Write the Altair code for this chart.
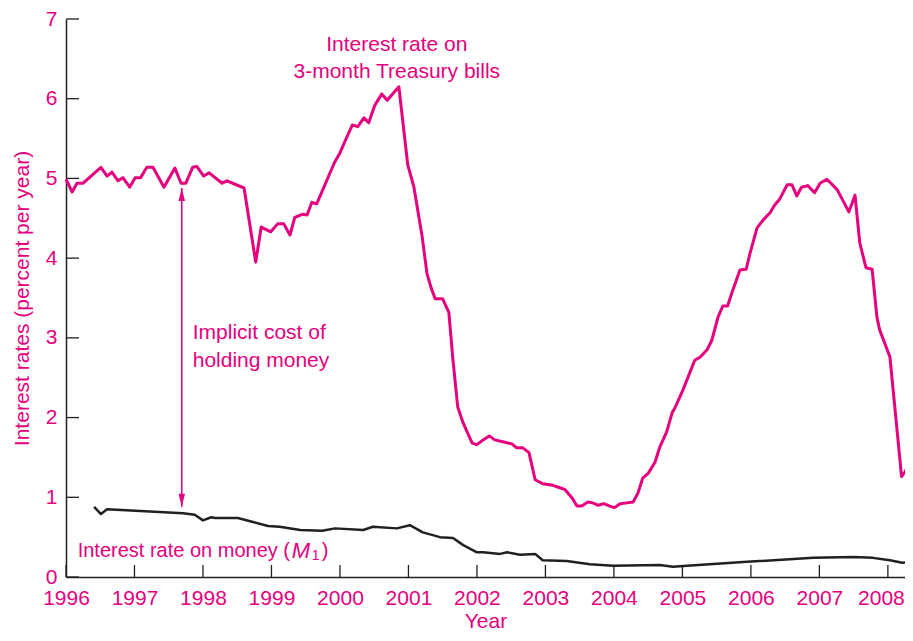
import altair as alt
import pandas as pd

# ---------------- data ----------------
tbill_year = [1996.00, 1996.09, 1996.16, 1996.25, 1996.51, 1996.60, 1996.67, 1996.76, 1996.83, 1996.93,
              1997.01, 1997.09, 1997.18, 1997.27, 1997.43, 1997.59, 1997.68, 1997.75, 1997.85, 1997.91,
              1998.01, 1998.09, 1998.28, 1998.35, 1998.60, 1998.77, 1998.85, 1998.99, 1999.09, 1999.18,
              1999.27, 1999.34, 1999.45, 1999.52, 1999.59, 1999.66, 1999.75, 1999.84, 1999.92, 2000.00,
              2000.07, 2000.18, 2000.26, 2000.35, 2000.42, 2000.51, 2000.61, 2000.69, 2000.86, 2000.99,
              2001.08, 2001.20, 2001.27, 2001.33, 2001.39, 2001.50, 2001.59, 2001.65, 2001.72, 2001.80,
              2001.93, 2002.00, 2002.09, 2002.18, 2002.26, 2002.41, 2002.51, 2002.58, 2002.67, 2002.76,
              2002.85, 2002.96, 2003.11, 2003.21, 2003.28, 2003.39, 2003.46, 2003.53, 2003.62, 2003.69,
              2003.77, 2003.85, 2003.94, 2004.01, 2004.09, 2004.19, 2004.28, 2004.35, 2004.42, 2004.50,
              2004.60, 2004.67, 2004.77, 2004.85, 2004.89, 2005.01, 2005.18, 2005.26, 2005.36, 2005.43,
              2005.52, 2005.59, 2005.66, 2005.72, 2005.84, 2005.93, 2005.99, 2006.09, 2006.18, 2006.28,
              2006.35, 2006.42, 2006.53, 2006.60, 2006.67, 2006.74, 2006.83, 2006.93, 2007.01, 2007.11,
              2007.26, 2007.43, 2007.52, 2007.59, 2007.68, 2007.77, 2007.84, 2007.88, 2007.99, 2008.03,
              2008.20, 2008.25, 2008.35]
tbill_rate = [4.99, 4.83, 4.94, 4.94, 5.14, 5.03, 5.08, 4.97, 5.01, 4.89,
              5.01, 5.01, 5.14, 5.14, 4.89, 5.13, 4.94, 4.94, 5.14, 5.15,
              5.03, 5.07, 4.94, 4.97, 4.88, 3.95, 4.39, 4.33, 4.43, 4.43,
              4.29, 4.51, 4.55, 4.54, 4.70, 4.68, 4.86, 5.04, 5.20, 5.32,
              5.46, 5.67, 5.65, 5.76, 5.70, 5.92, 6.06, 5.98, 6.15, 5.17,
              4.89, 4.27, 3.81, 3.63, 3.49, 3.49, 3.32, 2.72, 2.13, 1.93,
              1.68, 1.66, 1.72, 1.77, 1.72, 1.69, 1.67, 1.62, 1.62, 1.56,
              1.22, 1.17, 1.15, 1.12, 1.10, 0.99, 0.89, 0.89, 0.94, 0.93,
              0.90, 0.92, 0.89, 0.87, 0.92, 0.93, 0.94, 1.05, 1.24, 1.30,
              1.44, 1.63, 1.82, 2.06, 2.12, 2.35, 2.72, 2.76, 2.85, 2.97,
              3.26, 3.40, 3.40, 3.56, 3.85, 3.86, 4.07, 4.38, 4.48, 4.57,
              4.67, 4.74, 4.92, 4.92, 4.78, 4.89, 4.91, 4.82, 4.94, 4.99,
              4.86, 4.58, 4.79, 4.19, 3.88, 3.86, 3.26, 3.10, 2.85, 2.76,
              1.26, 1.32, 1.47]

money_year = [1996.41, 1996.51, 1996.60, 1997.71, 1997.88, 1998.00, 1998.12, 1998.18, 1998.51, 1998.73,
              1998.95, 1999.12, 1999.42, 1999.74, 1999.93, 2000.34, 2000.48, 2000.83, 2001.02, 2001.21,
              2001.46, 2001.65, 2001.80, 2002.00, 2002.09, 2002.34, 2002.44, 2002.63, 2002.85, 2002.96,
              2003.31, 2003.65, 2003.99, 2004.67, 2004.86, 2005.07, 2005.94, 2006.91, 2007.50, 2007.78,
              2008.03, 2008.21, 2008.35]
money_rate = [0.88, 0.79, 0.85, 0.80, 0.78, 0.71, 0.75, 0.74, 0.74, 0.69,
              0.64, 0.63, 0.59, 0.58, 0.61, 0.59, 0.63, 0.61, 0.65, 0.56,
              0.50, 0.49, 0.40, 0.31, 0.31, 0.29, 0.31, 0.28, 0.29, 0.21,
              0.20, 0.16, 0.14, 0.15, 0.13, 0.14, 0.19, 0.24, 0.25, 0.24,
              0.21, 0.18, 0.19]

year_ticks = list(range(1996, 2009))
rate_ticks = list(range(0, 8))

treasury_lines = ["Interest rate on", "3-month Treasury bills"]
treasury_year = [2000.83, 2000.83]
treasury_rate = [6.67, 6.33]

implicit_lines = ["Implicit cost of", "holding money"]
implicit_year = [1997.85, 1997.85]
implicit_rate = [3.06, 2.71]

arrow_year = [1997.69]
arrow_top = [4.88]
arrow_bottom = [0.88]

money_label_year = [1996.17]
money_label_rate = [0.33]

# ---------------- styling ----------------
PINK = "#E5007D"
BLACK = "#231F20"
FONT = "Liberation Sans"
FS = 21

xscale = alt.Scale(domain=[1996, 2008.25], nice=False, zero=False)
yscale = alt.Scale(domain=[0, 7], nice=False, zero=True)

xaxis = alt.Axis(values=year_ticks, format="d", title="Year", ticks=False, tickSize=0,
                 labelPadding=10, titleY=50, titleBaseline="alphabetic", grid=False,
                 domainColor=BLACK, domainWidth=1.5,
                 labelOffset={"condition": {"test": "datum.value == 2008", "value": -7}, "value": 0},
                 labelColor=PINK, titleColor=PINK, labelFontSize=FS, titleFontSize=FS,
                 labelFont=FONT, titleFont=FONT, titleFontWeight="normal", labelOverlap=False,
                 labelFlush=False)
yaxis = alt.Axis(values=rate_ticks, format="d", title="Interest rates (percent per year)",
                 ticks=False, tickSize=0, labelPadding=9, titlePadding=13, grid=False,
                 domainColor=BLACK, domainWidth=1.5, labelColor=PINK, titleColor=PINK,
                 labelFontSize=FS, titleFontSize=FS, labelFont=FONT, titleFont=FONT,
                 titleFontWeight="normal", labelOverlap=False, labelFlush=False)

X = alt.X("year:Q", scale=xscale, axis=xaxis)
Y = alt.Y("rate:Q", scale=yscale, axis=yaxis)

tb = pd.DataFrame({"year": tbill_year, "rate": tbill_rate})
m1 = pd.DataFrame({"year": money_year, "rate": money_rate})
xt = pd.DataFrame({"year": year_ticks})
yt = pd.DataFrame({"rate": rate_ticks})
tre = pd.DataFrame({"year": treasury_year, "rate": treasury_rate, "label": treasury_lines})
imp = pd.DataFrame({"year": implicit_year, "rate": implicit_rate, "label": implicit_lines})
arr = pd.DataFrame({"year": arrow_year, "rate": arrow_top, "rate2": arrow_bottom})
arr_top = pd.DataFrame({"year": arrow_year, "rate": arrow_top})
arr_bot = pd.DataFrame({"year": arrow_year, "rate": arrow_bottom})
mlab = pd.DataFrame({"year": money_label_year, "rate": money_label_rate})

pink_line = alt.Chart(tb).mark_line(color=PINK, strokeWidth=3, strokeJoin="round").encode(x=X, y=Y)
black_line = alt.Chart(m1).mark_line(color=BLACK, strokeWidth=2.5, strokeJoin="round").encode(x=X, y=Y)

x_ticks = alt.Chart(xt).mark_rule(color=BLACK, strokeWidth=1.3).encode(
    x=X, y=alt.value(558), y2=alt.value(546))
y_ticks = alt.Chart(yt).mark_rule(color=BLACK, strokeWidth=1.3).encode(
    y=Y, x=alt.value(0), x2=alt.value(13))

tre_text = alt.Chart(tre).mark_text(color=PINK, font=FONT, fontSize=FS, align="center",
                                     baseline="middle").encode(x=X, y=Y, text="label:N")
imp_text = alt.Chart(imp).mark_text(color=PINK, font=FONT, fontSize=FS, align="left",
                                     baseline="middle").encode(x=X, y=Y, text="label:N")

arrow_rule = alt.Chart(arr).mark_rule(color=PINK, strokeWidth=1.6).encode(
    x=X, y=Y, y2=alt.Y2("rate2:Q"))
head_up = alt.Chart(arr_top).mark_point(shape="M0,0L0.5,2L-0.5,2Z", filled=True, size=169,
                                        color=PINK, opacity=1, strokeWidth=0).encode(x=X, y=Y)
head_down = alt.Chart(arr_bot).mark_point(shape="M0,0L0.5,-2L-0.5,-2Z", filled=True, size=169,
                                          color=PINK, opacity=1, strokeWidth=0).encode(x=X, y=Y)

m_main = alt.Chart(mlab).mark_text(color=PINK, font=FONT, fontSize=20, align="left",
                                    baseline="middle").encode(x=X, y=Y, text=alt.value("Interest rate on money ("))
m_M = alt.Chart(mlab).mark_text(color=PINK, font=FONT, fontSize=22, align="left", fontStyle="italic",
                                 baseline="middle", dx=214).encode(x=X, y=Y, text=alt.value("M"))
m_1 = alt.Chart(mlab).mark_text(color=PINK, font=FONT, fontSize=14, align="left",
                                 baseline="middle", dx=234, dy=5).encode(x=X, y=Y, text=alt.value("1"))
m_close = alt.Chart(mlab).mark_text(color=PINK, font=FONT, fontSize=20, align="left",
                                     baseline="middle", dx=244).encode(x=X, y=Y, text=alt.value(")"))

chart = alt.layer(
    x_ticks, y_ticks, black_line, pink_line, arrow_rule, head_up, head_down,
    tre_text, imp_text, m_main, m_M, m_1, m_close
).properties(
    width=839, height=558,
    autosize=alt.AutoSizeParams(type="none"),
    padding={"left": 58, "top": 11, "right": 0, "bottom": 55},
).configure(background="white").configure_view(stroke=None)

chart.save("out.html", embed_options={"renderer": "svg", "actions": False})
